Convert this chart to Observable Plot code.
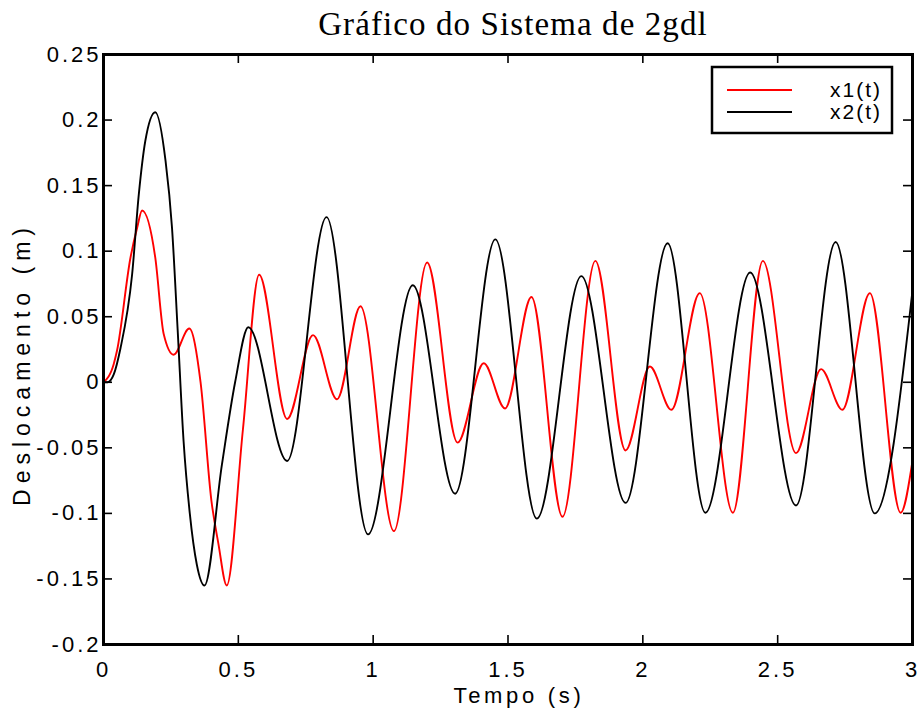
<!DOCTYPE html>
<html><head><meta charset="utf-8">
<script src="https://cdn.jsdelivr.net/npm/d3@7"></script>
<script src="https://cdn.jsdelivr.net/npm/@observablehq/plot@0.6"></script>
<style>
body{margin:0;background:#fff;}
#chart svg{display:block;background:#fff;}
</style>
</head><body><div id="chart"></div>
<script>
const titleText = "Gráfico do Sistema de 2gdl";
const xLabelText = "Tempo (s)";
const yLabelText = "Deslocamento (m)";
const seriesNames = ["x1(t)", "x2(t)"];
const seriesColors = ["#ff0000", "#000000"];
const xTicks = [0, 0.5, 1, 1.5, 2, 2.5, 3];
const xTickLabels = ["0", "0.5", "1", "1.5", "2", "2.5", "3"];
const yTicks = [-0.2, -0.15, -0.1, -0.05, 0, 0.05, 0.1, 0.15, 0.2, 0.25];
const yTickLabels = ["-0.2", "-0.15", "-0.1", "-0.05", "0", "0.05", "0.1", "0.15", "0.2", "0.25"];

const x1Time = [0, 0.038, 0.05, 0.1, 0.125, 0.143, 0.192, 0.223, 0.26, 0.318, 0.36, 0.40, 0.426, 0.457, 0.517, 0.577, 0.681, 0.777, 0.866, 0.953, 1.077, 1.2, 1.313, 1.41, 1.489, 1.587, 1.702, 1.824, 1.936, 2.026, 2.106, 2.211, 2.334, 2.445, 2.568, 2.661, 2.74, 2.842, 2.956, 3.0];
const x1Value = [0, 0.014, 0.024, 0.095, 0.118, 0.131, 0.095, 0.037, 0.021, 0.041, 0.0, -0.09, -0.123, -0.155, -0.036, 0.082, -0.028, 0.036, -0.013, 0.058, -0.1135, 0.0913, -0.046, 0.0145, -0.020, 0.065, -0.1026, 0.0926, -0.052, 0.012, -0.021, 0.068, -0.0995, 0.0926, -0.054, 0.010, -0.021, 0.068, -0.0995, -0.060];

const x2Time = [0, 0.015, 0.038, 0.063, 0.106, 0.131, 0.155, 0.192, 0.23, 0.254, 0.275, 0.297, 0.32, 0.346, 0.3745, 0.439, 0.488, 0.537, 0.681, 0.827, 0.981, 1.147, 1.304, 1.453, 1.607, 1.772, 1.936, 2.092, 2.232, 2.398, 2.568, 2.715, 2.86, 3.0];
const x2Value = [0, 0.0, 0.006, 0.026, 0.082, 0.1435, 0.184, 0.206, 0.169, 0.118, 0.04, -0.045, -0.1, -0.139, -0.155, -0.063, 0.0, 0.042, -0.060, 0.126, -0.116, 0.074, -0.085, 0.109, -0.104, 0.081, -0.092, 0.106, -0.0995, 0.0837, -0.094, 0.107, -0.1, 0.07];

const W = 924, H = 717, mL = 103, mR = 12, mT = 54, mB = 73;
const plotW = W - mL - mR, plotH = H - mT - mB;
const tickLen = 9;
const sansFont = "Liberation Sans, Arial, Helvetica, sans-serif";

const rows = [
  ...x1Time.map((t, i) => ({t, v: x1Value[i], s: seriesNames[0]})),
  ...x2Time.map((t, i) => ({t, v: x2Value[i], s: seriesNames[1]}))
];

const chart = Plot.plot({
  width: W, height: H,
  marginLeft: mL, marginRight: mR, marginTop: mT, marginBottom: mB,
  style: {fontFamily: sansFont, background: "#fff", color: "#000"},
  x: {domain: [0, 3]},
  y: {domain: [-0.2, 0.25]},
  color: {domain: seriesNames, range: seriesColors},
  marks: [
    Plot.ruleX(xTicks, {x: d => d, insetBottom: plotH - tickLen, stroke: "#000", strokeWidth: 1.6}),
    Plot.ruleX(xTicks, {x: d => d, insetTop: plotH - tickLen, stroke: "#000", strokeWidth: 1.6}),
    Plot.ruleY(yTicks, {y: d => d, insetRight: plotW - tickLen, stroke: "#000", strokeWidth: 1.6}),
    Plot.ruleY(yTicks, {y: d => d, insetLeft: plotW - tickLen, stroke: "#000", strokeWidth: 1.6}),
    Plot.line(rows, {x: "t", y: "v", z: "s", stroke: "s", curve: "monotone-x", strokeWidth: 1.9}),
    Plot.frame({stroke: "#000", strokeWidth: 3}),
    Plot.axisX(xTicks, {tickSize: 0, tickPadding: 17, fontSize: 22, label: null,
      tickFormat: d => xTickLabels[xTicks.indexOf(d)]}),
    Plot.axisY(yTicks, {tickSize: 0, tickPadding: 2, fontSize: 22, label: null,
      tickFormat: d => yTickLabels[yTicks.indexOf(d)]})
  ]
});

const svg = d3.select(chart);
svg.selectAll("g[aria-label='x-axis tick label'] text, g[aria-label='y-axis tick label'] text")
  .style("letter-spacing", "3px").style("font-family", sansFont);

svg.append("text").text(titleText)
  .attr("x", 513).attr("y", 35)
  .attr("text-anchor", "middle")
  .style("font-family", "Liberation Serif, Times New Roman, serif")
  .style("font-size", "33px").style("letter-spacing", "1.1px").attr("fill", "#000");

svg.append("text").text(xLabelText)
  .attr("x", 519).attr("y", 703)
  .attr("text-anchor", "middle")
  .style("font-family", sansFont).style("font-size", "22px").style("letter-spacing", "3.7px").attr("fill", "#000");

svg.append("text").text(yLabelText)
  .attr("transform", "translate(30,364) rotate(-90)")
  .attr("text-anchor", "middle")
  .style("font-family", sansFont).style("font-size", "23px").style("letter-spacing", "6px").attr("fill", "#000");

// legend
const lg = svg.append("g");
lg.append("rect").attr("x", 712).attr("y", 67).attr("width", 180).attr("height", 66)
  .attr("fill", "#fff").attr("stroke", "#000").attr("stroke-width", 2.5);
seriesNames.forEach((name, i) => {
  const yy = 90 + i * 22;
  lg.append("line").attr("x1", 727).attr("x2", 792).attr("y1", yy).attr("y2", yy)
    .attr("stroke", seriesColors[i]).attr("stroke-width", 2);
  lg.append("text").text(name).attr("x", 882).attr("y", yy).attr("dy", "0.35em")
    .attr("text-anchor", "end")
    .style("font-family", sansFont).style("font-size", "21px").style("letter-spacing", "2px").attr("fill", "#000");
});

document.getElementById("chart").appendChild(chart);
</script>
</body></html>
